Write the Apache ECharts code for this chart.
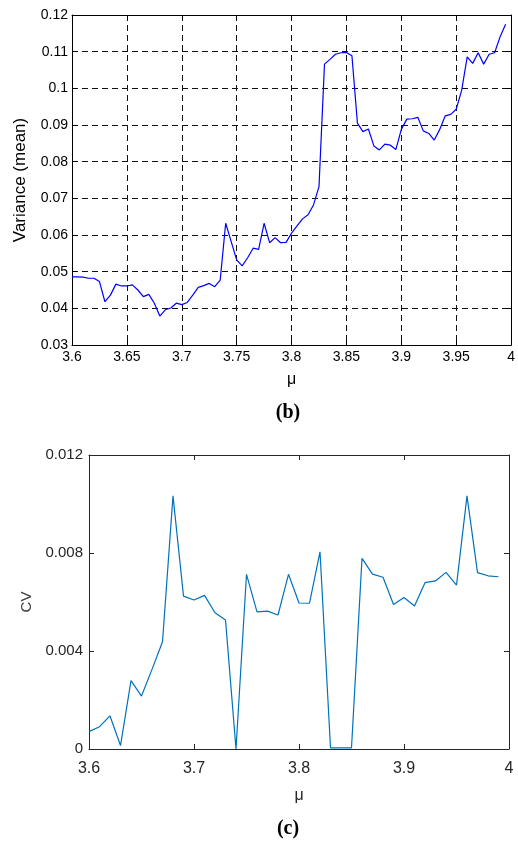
<!DOCTYPE html>
<html>
<head>
<meta charset="utf-8">
<script src="https://cdn.jsdelivr.net/npm/echarts@6/dist/echarts.min.js"></script>
<style>
  html, body { margin: 0; padding: 0; background: #fff; }
  #main { width: 518px; height: 843px; }
</style>
</head>
<body>
<div id="main"></div>
<script>
// (b) variance (mean) vs mu
const muB = [
  3.600, 3.605, 3.610, 3.615, 3.620, 3.625, 3.630, 3.635, 3.640, 3.645,
  3.650, 3.655, 3.660, 3.665, 3.670, 3.675, 3.680, 3.685, 3.690, 3.695,
  3.700, 3.705, 3.710, 3.715, 3.720, 3.725, 3.730, 3.735, 3.740, 3.745,
  3.750, 3.755, 3.760, 3.765, 3.770, 3.775, 3.780, 3.785, 3.790, 3.795,
  3.800, 3.805, 3.810, 3.815, 3.820, 3.825, 3.830, 3.835, 3.840, 3.845,
  3.850, 3.855, 3.860, 3.865, 3.870, 3.875, 3.880, 3.885, 3.890, 3.895,
  3.900, 3.905, 3.910, 3.915, 3.920, 3.925, 3.930, 3.935, 3.940, 3.945,
  3.950, 3.955, 3.960, 3.965, 3.970, 3.975, 3.980, 3.985, 3.990, 3.995
];
const varMean = [
  0.0486, 0.0486, 0.0485, 0.0482, 0.0482, 0.0473, 0.0418, 0.0436, 0.0466, 0.0461,
  0.0461, 0.0464, 0.0450, 0.0432, 0.0438, 0.0414, 0.0379, 0.0396, 0.0401, 0.0414,
  0.0410, 0.0416, 0.0436, 0.0457, 0.0462, 0.0468, 0.0459, 0.0477, 0.0632, 0.0582,
  0.0532, 0.0516, 0.0538, 0.0564, 0.0561, 0.0632, 0.0579, 0.0593, 0.0579, 0.0580,
  0.0605, 0.0625, 0.0644, 0.0655, 0.0682, 0.0732, 0.1066, 0.1079, 0.1093, 0.1097,
  0.1098, 0.1089, 0.0905, 0.0882, 0.0889, 0.0843, 0.0832, 0.0848, 0.0845, 0.0833,
  0.0888, 0.0916, 0.0917, 0.0921, 0.0884, 0.0877, 0.0859, 0.0888, 0.0925, 0.0929,
  0.0943, 0.0995, 0.1086, 0.1068, 0.1097, 0.1066, 0.1093, 0.1097, 0.1141, 0.1175
];

// (c) CV vs mu
const muC = [
  3.60, 3.61, 3.62, 3.63, 3.64, 3.65, 3.66, 3.67, 3.68, 3.69,
  3.70, 3.71, 3.72, 3.73, 3.74, 3.75, 3.76, 3.77, 3.78, 3.79,
  3.80, 3.81, 3.82, 3.83, 3.84, 3.85, 3.86, 3.87, 3.88, 3.89,
  3.90, 3.91, 3.92, 3.93, 3.94, 3.95, 3.96, 3.97, 3.98, 3.99
];
const cv = [
  0.00071, 0.00091, 0.00135, 0.00014, 0.00279, 0.00216, 0.00325, 0.00438, 0.01033, 0.00624,
  0.00608, 0.00627, 0.00556, 0.00527, 0.00000, 0.00713, 0.00560, 0.00563, 0.00547, 0.00713,
  0.00596, 0.00595, 0.00805, 0.00005, 0.00005, 0.00005, 0.00778, 0.00714, 0.00701, 0.00590,
  0.00618, 0.00584, 0.00679, 0.00686, 0.00721, 0.00669, 0.01033, 0.00720, 0.00707, 0.00703
];

const sans = 'Liberation Sans';
const serif = 'Liberation Serif';

// extra axis used only to close the box (top / right) with inward ticks
function tickOnly (extra, color) {
  return Object.assign({
    type: 'value',
    axisLine: { show: true, onZero: false, lineStyle: { color: color, width: 1 } },
    axisTick: { show: true, inside: true, length: 5, lineStyle: { color: color } },
    axisLabel: { show: false },
    splitLine: { show: false }
  }, extra);
}

const chart = echarts.init(document.getElementById('main'), null, { renderer: 'canvas' });

const option = {
  animation: false,
  backgroundColor: '#fff',
  title: [
    {
      text: '{p|(}{b|b}{p|)}',
      left: 283, top: 398, textAlign: 'center',
      textStyle: { rich: {
        p: { fontFamily: serif, fontSize: 20, color: '#000' },
        b: { fontFamily: serif, fontSize: 20, fontWeight: 'bold', color: '#000' }
      } }
    },
    {
      text: '{p|(}{b|c}{p|)}',
      left: 283, top: 814, textAlign: 'center',
      textStyle: { rich: {
        p: { fontFamily: serif, fontSize: 20, color: '#000' },
        b: { fontFamily: serif, fontSize: 20, fontWeight: 'bold', color: '#000' }
      } }
    }
  ],
  grid: [
    { left: 72, top: 15, width: 443, height: 330 },
    { left: 89, top: 455, width: 420, height: 294 }
  ],
  xAxis: [
    {
      gridIndex: 0, type: 'value', min: 3.6, max: 4, interval: 0.05, position: 'bottom',
      name: 'μ', nameLocation: 'middle', nameGap: 27,
      nameTextStyle: { fontFamily: sans, fontSize: 16, color: '#000' },
      axisLine: { onZero: false, lineStyle: { color: '#000', width: 1 } },
      axisTick: { inside: true, length: 5, lineStyle: { color: '#000' } },
      axisLabel: { fontFamily: sans, fontSize: 14, color: '#000', margin: 5 },
      splitLine: { show: true, lineStyle: { color: '#111', type: [6, 4], width: 1 } }
    },
    tickOnly({ gridIndex: 0, min: 3.6, max: 4, interval: 0.05, position: 'top' }, '#000'),
    {
      gridIndex: 1, type: 'value', min: 3.6, max: 4, interval: 0.1, position: 'bottom',
      name: 'μ', nameLocation: 'middle', nameGap: 39,
      nameTextStyle: { fontFamily: sans, fontSize: 16, color: '#262626' },
      axisLine: { onZero: false, lineStyle: { color: '#262626', width: 1 } },
      axisTick: { inside: true, length: 5, lineStyle: { color: '#262626' } },
      axisLabel: { fontFamily: sans, fontSize: 16, color: '#262626', margin: 12 },
      splitLine: { show: false }
    },
    tickOnly({ gridIndex: 1, min: 3.6, max: 4, interval: 0.1, position: 'top' }, '#262626')
  ],
  yAxis: [
    {
      gridIndex: 0, type: 'value', min: 0.03, max: 0.12, interval: 0.01, position: 'left',
      name: 'Variance (mean)', nameLocation: 'middle', nameGap: 43,
      nameTextStyle: { fontFamily: sans, fontSize: 17, color: '#000' },
      axisLine: { onZero: false, lineStyle: { color: '#000', width: 1 } },
      axisTick: { inside: true, length: 5, lineStyle: { color: '#000' } },
      axisLabel: { fontFamily: sans, fontSize: 14, color: '#000', margin: 4 },
      splitLine: { show: true, lineStyle: { color: '#111', type: [6, 4], width: 1 } }
    },
    tickOnly({ gridIndex: 0, min: 0.03, max: 0.12, interval: 0.01, position: 'right' }, '#000'),
    {
      gridIndex: 1, type: 'value', min: 0, max: 0.012, interval: 0.004, position: 'left',
      name: 'CV', nameLocation: 'middle', nameGap: 50,
      nameTextStyle: { fontFamily: sans, fontSize: 15, color: '#404040' },
      axisLine: { onZero: false, lineStyle: { color: '#262626', width: 1 } },
      axisTick: { inside: true, length: 5, lineStyle: { color: '#262626' } },
      axisLabel: { fontFamily: sans, fontSize: 15, color: '#262626', margin: 6 },
      splitLine: { show: false }
    },
    tickOnly({ gridIndex: 1, min: 0, max: 0.012, interval: 0.004, position: 'right' }, '#262626')
  ],
  series: [
    {
      name: 'Variance (mean)', type: 'line', xAxisIndex: 0, yAxisIndex: 0,
      data: muB.map((m, i) => [m, varMean[i]]),
      showSymbol: false, lineStyle: { color: '#0000ff', width: 1.2 }
    },
    {
      name: 'CV', type: 'line', xAxisIndex: 2, yAxisIndex: 2,
      data: muC.map((m, i) => [m, cv[i]]),
      showSymbol: false, lineStyle: { color: '#0072bd', width: 1.2 }
    }
  ]
};

chart.setOption(option);
</script>
</body>
</html>
